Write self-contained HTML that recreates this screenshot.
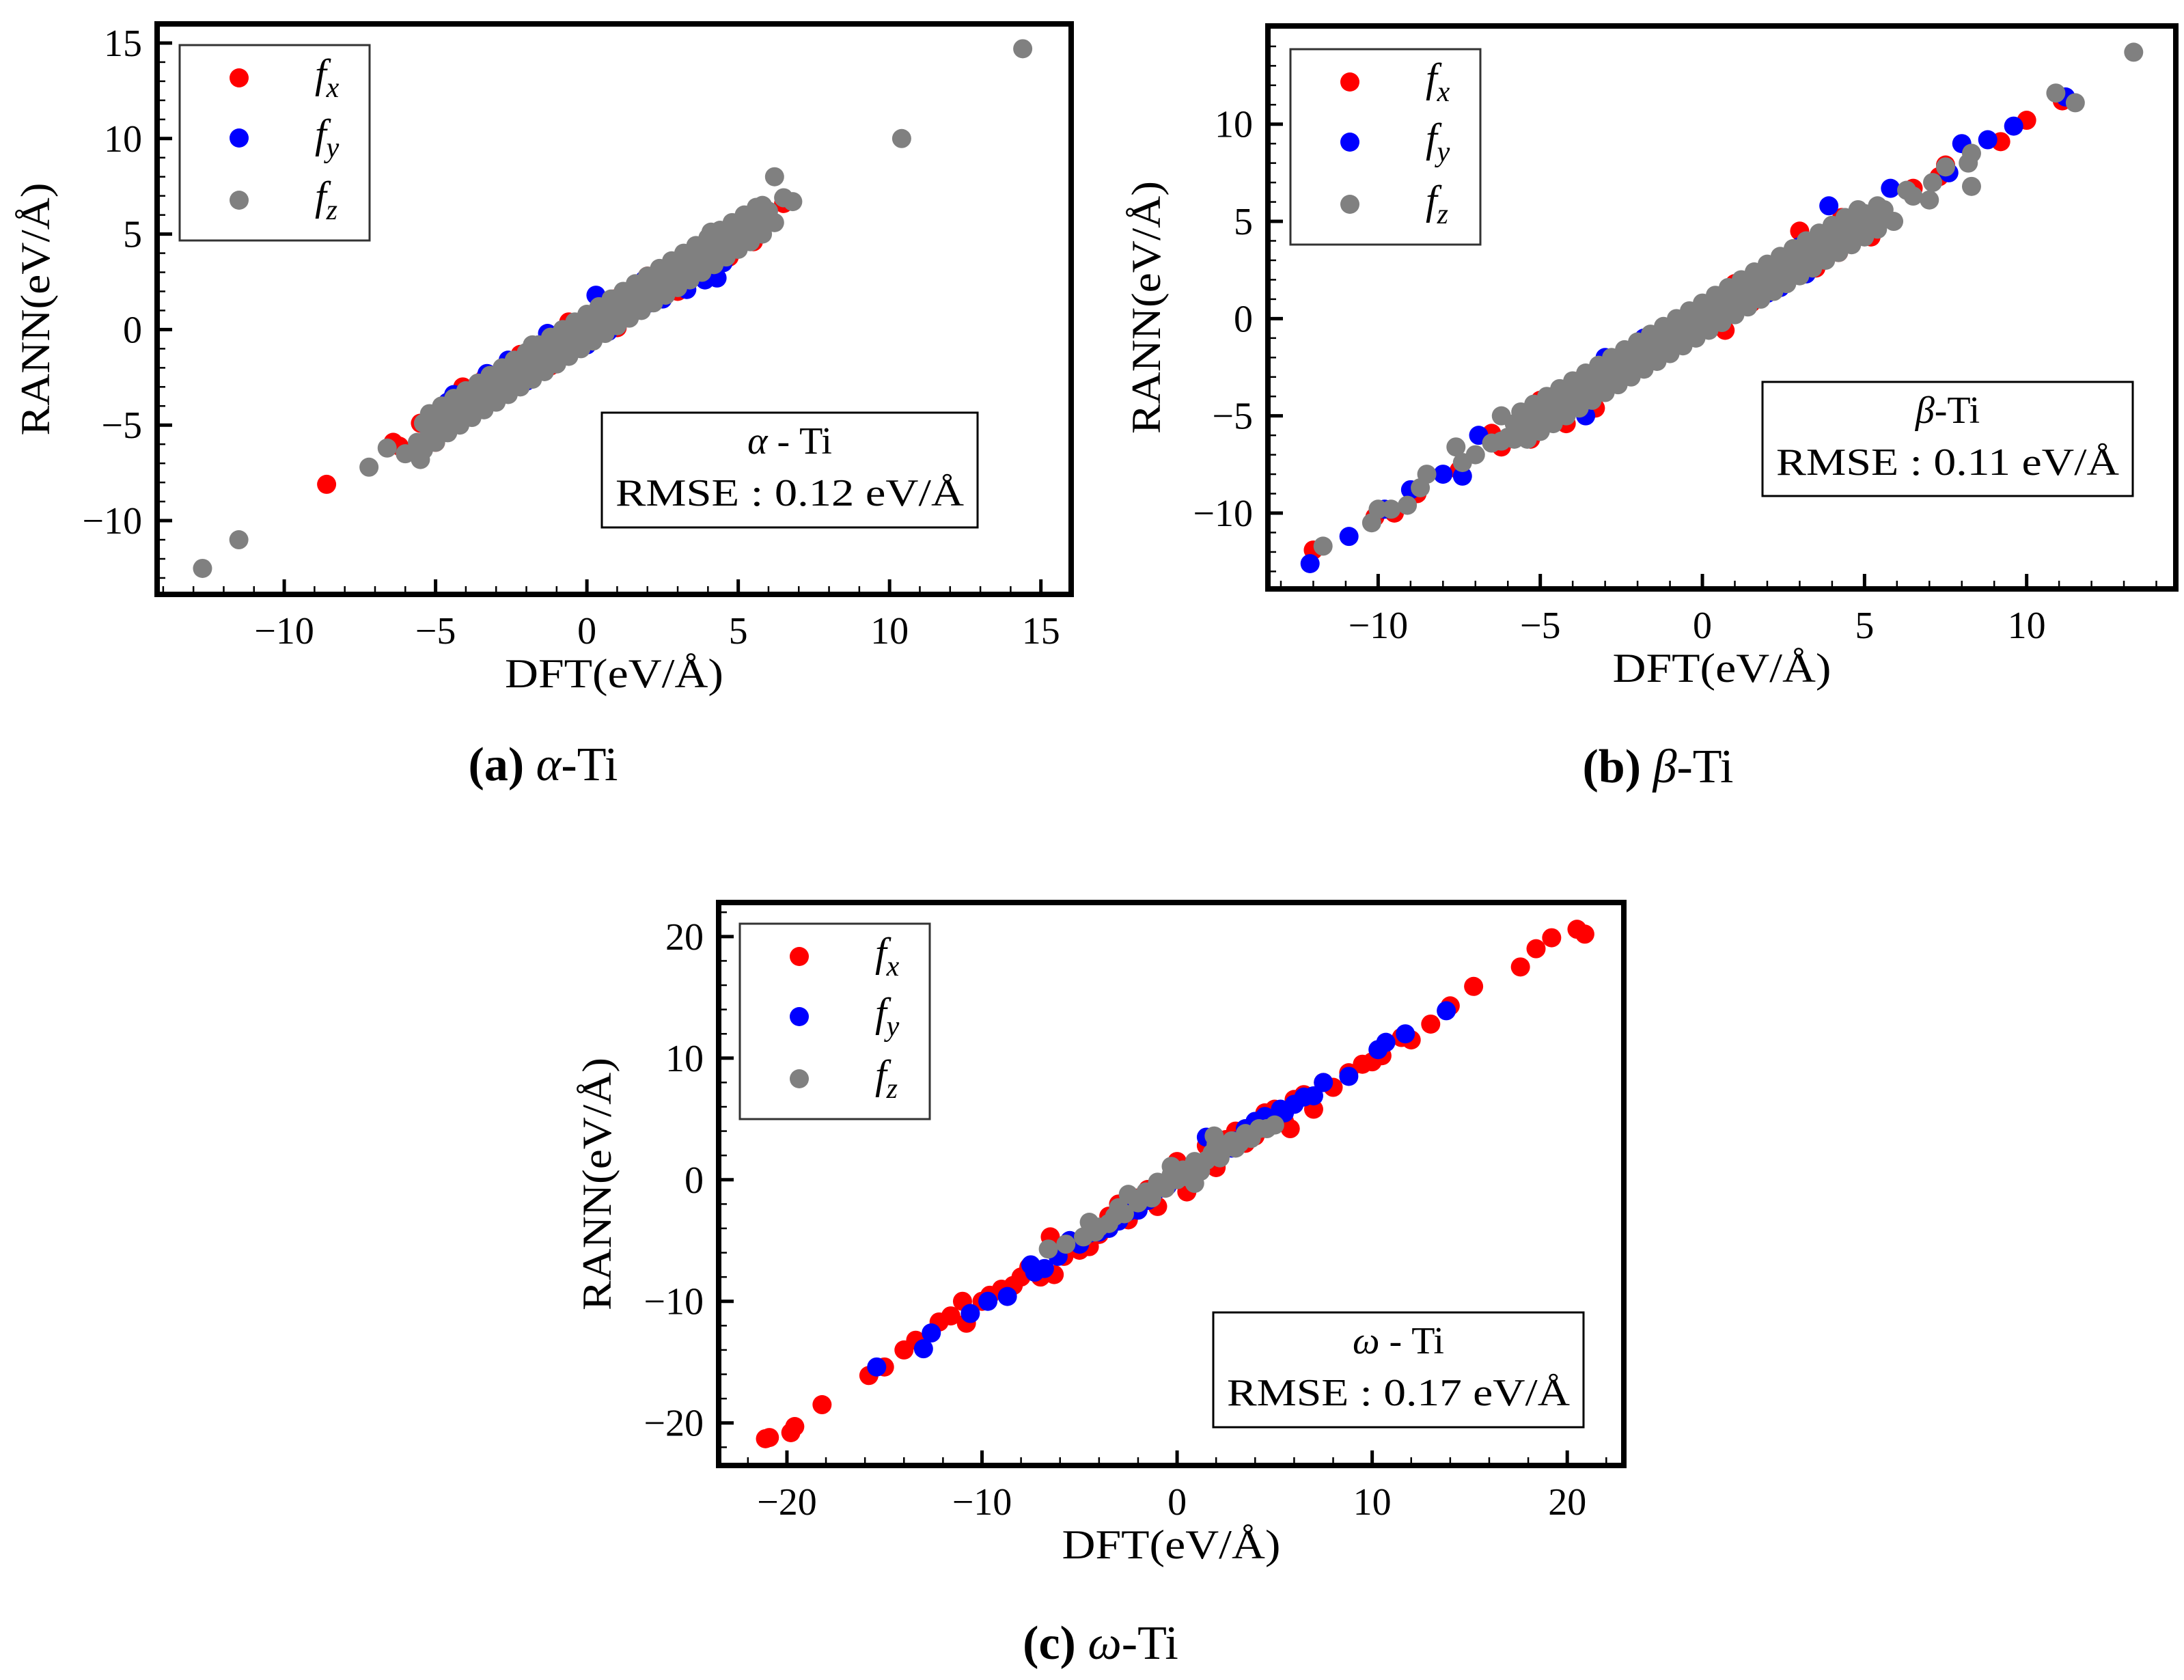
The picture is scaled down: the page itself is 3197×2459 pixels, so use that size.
<!DOCTYPE html>
<html><head><meta charset="utf-8">
<style>
html,body{margin:0;padding:0;background:#fff;}
svg{display:block;}
text{font-family:"Liberation Serif",serif;fill:#000;}
</style></head>
<body>
<svg id="fig" width="3197" height="2459" viewBox="0 0 3197 2459" xmlns="http://www.w3.org/2000/svg"></svg>
<script>
// ---------- data: panel (a) alpha-Ti ----------
const aRed = [[-8.6,-8.1],[-6.4,-5.9],[-6.2,-6.1],[-5.5,-4.9],[-4.6,-4.1],[-4.1,-3.0],[-3.4,-2.6],[-2.6,-2.4],[-1.9,-1.7],[-1.2,-1.9],[-0.6,0.4],[0.2,-0.4],[0.9,1.6],[1.5,0.9],[2.0,2.8],[2.6,1.9],[3.3,3.7],[3.9,2.9],[4.7,3.8],[5.5,4.6],[6.5,6.6],[4.2,4.9],[-2.2,-1.3],[-3.0,-3.3],[1.0,0.1],[3.0,2.0],[-5.0,-5.9],[5.0,5.3]];
const aBlue = [[-5.2,-5.5],[-4.4,-3.4],[-4.0,-4.6],[-3.3,-2.3],[-2.6,-1.6],[-2.0,-2.7],[-1.3,-0.2],[-0.8,-1.4],[-0.3,0.3],[0.3,1.8],[0.7,-0.1],[1.4,0.8],[2.1,1.4],[2.7,3.2],[3.3,2.1],[3.9,2.6],[4.3,2.7],[4.8,4.2],[1.9,2.6],[-1.6,-2.2],[-4.6,-3.8],[-3.6,-4.2],[0.0,-0.8],[2.5,1.6],[4.5,3.5]];
const aGray = [[-5.6,-5.9],[-5.2,-5.5],[-4.8,-5.0],[-4.4,-4.5],[-4.0,-4.1],[-3.6,-3.7],[-3.2,-3.2],[-2.8,-2.9],[-2.4,-2.4],[-2.0,-2.0],[-1.6,-1.6],[-1.2,-1.2],[-0.8,-0.8],[-0.4,-0.4],[0.0,0.0],[0.4,0.4],[0.8,0.8],[1.2,1.2],[1.6,1.6],[2.0,2.0],[2.4,2.4],[2.8,2.8],[3.2,3.2],[3.6,3.6],[4.0,4.0],[4.4,4.4],[4.8,4.8],[5.2,5.2],[5.6,5.7],[6.0,6.2],
[-5.4,-4.9],[-5.0,-4.5],[-4.6,-4.1],[-4.2,-3.7],[-3.8,-3.3],[-3.4,-2.9],[-3.0,-2.5],[-2.6,-2.1],[-2.2,-1.7],[-1.8,-1.3],[-1.4,-0.9],[-1.0,-0.5],[-0.6,-0.1],[-0.2,0.3],[0.2,0.7],[0.6,1.1],[1.0,1.5],[1.4,1.9],[1.8,2.3],[2.2,2.7],[2.6,3.1],[3.0,3.5],[3.4,3.9],[3.8,4.3],[4.2,4.7],[4.6,5.1],[5.0,5.5],[5.4,6.0],[5.8,6.5],
[-5.4,-6.3],[-5.0,-5.6],[-4.6,-5.1],[-4.2,-4.7],[-3.8,-4.3],[-3.4,-3.9],[-3.0,-3.5],[-2.6,-3.0],[-2.2,-2.6],[-1.8,-2.2],[-1.4,-1.8],[-1.0,-1.4],[-0.6,-1.0],[-0.2,-0.6],[0.2,-0.2],[0.6,0.2],[1.0,0.6],[1.4,1.0],[1.8,1.4],[2.2,1.8],[2.6,2.2],[3.0,2.6],[3.4,3.0],[3.8,3.4],[4.2,3.8],[4.6,4.2],[5.0,4.6],[5.4,5.0],[5.8,5.5],
[-5.2,-4.4],[-4.8,-4.0],[-4.4,-3.6],[-4.0,-3.2],[-3.6,-2.8],[-3.2,-2.4],[-2.8,-2.0],[-2.4,-1.6],[-2.0,-1.2],[-1.6,-0.8],[-1.2,-0.4],[-0.8,0.0],[-0.4,0.4],[0.0,0.8],[0.4,1.2],[0.8,1.6],[1.2,2.0],[1.6,2.4],[2.0,2.8],[2.4,3.2],[2.8,3.6],[3.2,4.0],[3.6,4.4],[4.0,4.8],[4.4,5.2],[4.8,5.6],[5.2,6.0],[5.6,6.4],
[-5.0,-5.9],[-4.6,-5.4],[-4.2,-5.0],[-3.8,-4.6],[-3.4,-4.2],[-3.0,-3.8],[-2.6,-3.4],[-2.2,-3.0],[-1.8,-2.6],[-1.4,-2.2],[-1.0,-1.8],[-0.6,-1.4],[-0.2,-1.0],[0.2,-0.6],[0.6,-0.2],[1.0,0.2],[1.4,0.6],[1.8,1.0],[2.2,1.4],[2.6,1.8],[3.0,2.2],[3.4,2.6],[3.8,3.0],[4.2,3.4],[4.6,3.8],[5.0,4.2],[5.4,4.6],[5.8,5.0],[6.2,5.6],
[14.4,14.7],[10.4,10.0],[-12.7,-12.5],[-11.5,-11.0],[-7.2,-7.2],[-6.6,-6.2],[-6.0,-6.5],[6.2,8.0],[6.8,6.7],[6.5,6.9],[4.1,5.1],[-1.8,-0.8],[-5.5,-6.8]];
const aXTicks = [-10,-5,0,5,10,15];
const aYTicks = [-10,-5,0,5,10,15];

// ---------- data: panel (b) beta-Ti ----------
const bRed = [[-12.0,-11.9],[-9.5,-10.0],[-10.1,-10.2],[-8.8,-9.0],[-7.5,-7.8],[-6.5,-5.9],[-6.2,-6.6],[-5.3,-6.2],[-5.0,-4.2],[-4.2,-5.4],[-3.3,-4.6],[-3.0,-2.5],[-1.5,-1.5],[-0.8,-0.1],[0.7,-0.6],[1.5,0.8],[2.0,2.6],[3.0,4.5],[4.2,3.4],[4.3,5.2],[6.5,6.7],[7.3,7.3],[7.5,7.9],[9.2,9.1],[10.0,10.2],[11.1,11.2],[-3.8,-3.2],[3.5,2.6],[5.2,4.2],[-2.2,-2.9],[1.0,1.8],[-4.6,-4.0]];
const bBlue = [[-12.1,-12.6],[-10.9,-11.2],[-9.8,-9.8],[-9.0,-8.8],[-8.0,-8.0],[-7.4,-8.1],[-6.9,-6.0],[-5.6,-5.2],[-4.5,-4.3],[-3.6,-5.0],[-2.5,-2.5],[-1.8,-1.0],[-0.3,-0.5],[1.0,1.1],[2.4,1.6],[3.0,3.7],[3.9,5.8],[4.6,4.0],[5.8,6.7],[7.6,7.5],[8.0,9.0],[8.8,9.2],[9.6,9.9],[11.2,11.4],[3.2,2.3],[-4.9,-4.6],[-1.0,-1.7],[2.0,1.3],[-3.0,-2.0]];
const bGray = [[-6.0,-6.1],[-5.6,-5.6],[-5.2,-5.3],[-4.8,-4.8],[-4.4,-4.4],[-4.0,-4.0],[-3.6,-3.6],[-3.2,-3.2],[-2.8,-2.8],[-2.4,-2.4],[-2.0,-2.0],[-1.6,-1.6],[-1.2,-1.2],[-0.8,-0.8],[-0.4,-0.4],[0.0,0.0],[0.4,0.4],[0.8,0.8],[1.2,1.2],[1.6,1.6],[2.0,2.0],[2.4,2.4],[2.8,2.8],[3.2,3.2],[3.6,3.6],[4.0,4.0],[4.4,4.4],[4.8,4.8],[5.2,5.2],[5.6,5.6],
[-5.8,-5.4],[-5.4,-5.0],[-5.0,-4.6],[-4.6,-4.2],[-4.2,-3.8],[-3.8,-3.4],[-3.4,-3.0],[-3.0,-2.6],[-2.6,-2.2],[-2.2,-1.8],[-1.8,-1.4],[-1.4,-1.0],[-1.0,-0.6],[-0.6,-0.2],[-0.2,0.2],[0.2,0.6],[0.6,1.0],[1.0,1.4],[1.4,1.8],[1.8,2.2],[2.2,2.6],[2.6,3.0],[3.0,3.4],[3.4,3.8],[3.8,4.2],[4.2,4.6],[4.6,5.0],[5.0,5.4],[5.4,5.8],
[-5.8,-6.2],[-5.4,-5.8],[-5.0,-5.4],[-4.6,-5.0],[-4.2,-4.6],[-3.8,-4.2],[-3.4,-3.8],[-3.0,-3.4],[-2.6,-3.0],[-2.2,-2.6],[-1.8,-2.2],[-1.4,-1.8],[-1.0,-1.4],[-0.6,-1.0],[-0.2,-0.6],[0.2,-0.2],[0.6,0.2],[1.0,0.6],[1.4,1.0],[1.8,1.4],[2.2,1.8],[2.6,2.2],[3.0,2.6],[3.4,3.0],[3.8,3.4],[4.2,3.8],[4.6,4.2],[5.0,4.6],[5.4,5.0],
[-5.6,-4.8],[-5.2,-4.4],[-4.8,-4.0],[-4.4,-3.6],[-4.0,-3.2],[-3.6,-2.8],[-3.2,-2.4],[-2.8,-2.0],[-2.4,-1.6],[-2.0,-1.2],[-1.6,-0.8],[-1.2,-0.4],[-0.8,0.0],[-0.4,0.4],[0.0,0.8],[0.4,1.2],[0.8,1.6],[1.2,2.0],[1.6,2.4],[2.0,2.8],[2.4,3.2],[2.8,3.6],[3.2,4.0],[3.6,4.4],[4.0,4.8],[4.4,5.2],[4.8,5.6],
[-5.4,-6.2],[-5.0,-5.8],[-4.6,-5.4],[-4.2,-5.0],[-3.8,-4.6],[-3.4,-4.2],[-3.0,-3.8],[-2.6,-3.4],[-2.2,-3.0],[-1.8,-2.6],[-1.4,-2.2],[-1.0,-1.8],[-0.6,-1.4],[-0.2,-1.0],[0.2,-0.6],[0.6,-0.2],[1.0,0.2],[1.4,0.6],[1.8,1.0],[2.2,1.4],[2.6,1.8],[3.0,2.2],[3.4,2.6],[3.8,3.0],[4.2,3.4],[4.6,3.8],[5.0,4.2],[5.4,4.6],
[13.3,13.7],[11.5,11.1],[10.9,11.6],[8.3,8.5],[8.3,6.8],[8.2,8.0],[7.5,7.8],[7.0,6.1],[7.1,7.0],[6.5,6.3],[6.3,6.6],[5.9,5.0],[-11.7,-11.7],[-10.2,-10.5],[-10.0,-9.8],[-9.6,-9.8],[-9.1,-9.6],[-8.7,-8.7],[-8.5,-8.0],[-7.6,-6.6],[-7.4,-7.4],[-7.0,-7.0],[-6.5,-6.4],[-6.2,-6.3],[-6.2,-5.0]];
const bXTicks = [-10,-5,0,5,10];
const bYTicks = [-10,-5,0,5,10];

// ---------- data: panel (c) omega-Ti ----------
const cRed = [[-21.1,-21.3],[-20.9,-21.2],[-19.8,-20.8],[-19.6,-20.3],[-18.2,-18.5],[-15.8,-16.1],[-15.0,-15.4],[-14.0,-14.0],[-13.4,-13.2],[-12.2,-11.7],[-11.6,-11.2],[-11.0,-10.0],[-10.8,-11.8],[-10.0,-10.0],[-9.6,-9.5],[-9.0,-9.0],[-8.4,-8.7],[-8.0,-8.0],[-7.6,-7.2],[-7.0,-8.0],[-6.3,-7.8],[-6.5,-4.7],[-5.8,-6.3],[-5.0,-5.8],[-4.5,-5.5],[-3.5,-3.0],[-2.5,-3.3],[-1.5,-0.8],[-1.0,-2.2],[0.0,1.5],[0.5,-1.0],[1.5,2.8],[2.0,1.0],[3.0,4.0],[3.5,3.0],[4.5,5.5],[5.0,5.8],[5.5,4.8],[5.8,4.2],[6.5,7.0],[7.0,5.8],[7.5,8.0],[8.8,8.8],[9.5,9.5],[10.0,9.7],[10.5,10.2],[11.5,11.7],[12.0,11.5],[13.0,12.8],[14.0,14.3],[15.2,15.9],[17.6,17.5],[18.4,19.0],[19.2,19.9],[20.5,20.6],[20.9,20.2],[-3.0,-2.0],[2.5,3.3],[-2.0,-1.5],[-4.0,-4.5],[-6.0,-5.5],[4.0,3.6],[6.0,6.6],[8.0,7.6],[1.0,0.5]];
const cBlue = [[-15.4,-15.4],[-13.0,-13.9],[-12.6,-12.6],[-10.6,-11.0],[-9.7,-10.0],[-8.7,-9.6],[-7.5,-7.0],[-7.3,-7.6],[-6.8,-7.3],[-6.1,-6.3],[-5.5,-5.0],[-5.0,-5.3],[-4.0,-4.3],[-3.5,-4.0],[-3.0,-3.4],[-2.0,-2.5],[-1.5,-1.7],[-0.5,-0.5],[0.5,0.6],[1.0,1.4],[1.5,3.5],[2.0,2.0],[2.5,2.7],[3.0,3.2],[3.5,4.2],[4.0,4.8],[4.5,5.2],[5.0,5.0],[5.5,5.5],[6.0,6.2],[6.5,6.8],[7.0,6.9],[7.5,8.0],[8.8,8.5],[10.3,10.7],[10.7,11.3],[11.7,12.0],[13.8,13.9],[2.8,2.6],[-1.0,-0.8],[-4.5,-4.4],[-2.5,-2.6],[3.8,3.9],[5.3,5.8]];
const cGray = [[-6.6,-5.7],[-5.7,-5.3],[-4.8,-4.7],[-4.5,-3.5],[-4.0,-3.9],[-3.5,-3.6],[-3.0,-2.3],[-2.7,-2.8],[-2.5,-1.2],[-2.0,-1.9],[-1.6,-1.0],[-1.3,-1.5],[-1.0,-0.2],[-0.6,-0.7],[-0.3,0.4],[0.0,0.0],[0.3,0.8],[0.6,0.2],[0.9,1.5],[1.2,0.7],[1.5,1.6],[1.8,2.2],[1.9,3.6],[2.2,1.8],[2.5,2.6],[2.8,3.2],[3.2,3.0],[3.5,3.8],[3.8,3.4],[4.2,4.2],[4.6,4.2],[5.0,4.5],[-0.3,1.1],[0.9,-0.3],[-4.2,-4.3],[-3.2,-3.0],[2.0,2.9],[3.0,2.6]];
const cXTicks = [-20,-10,0,10,20];
const cYTicks = [-20,-10,0,10,20];

const NS = "http://www.w3.org/2000/svg";
const svg = document.getElementById('fig');
function mk(tag, attrs, parent){
  const e = document.createElementNS(NS, tag);
  for (const k in attrs) e.setAttribute(k, attrs[k]);
  (parent||svg).appendChild(e);
  return e;
}

function drawPanel(p){
  const g = mk('g', {});
  
  
  const sx = v => p.L + (v - p.x0) / (p.x1 - p.x0) * (p.R - p.L);
  const sy = v => p.B - (v - p.y0) / (p.y1 - p.y0) * (p.B - p.T);
  const clip = mk('clipPath', {id: p.id + '-clip'}, g);
  mk('rect', {x:p.L, y:p.T, width:p.R-p.L, height:p.B-p.T}, clip);
  const pts = mk('g', {'clip-path':'url(#' + p.id + '-clip)'}, g);
  
  
  const series = [[p.red,'#ff0000','fx'],[p.blue,'#0000ff','fy'],[p.gray,'#808080','fz']];
  series.forEach(([arr,col,nm]) => {
    arr.forEach(d => {
      const c = mk('circle', {cx:sx(d[0]), cy:sy(d[1]), r:14, fill:col}, pts);
      
      
    });
  });
  for (let v = Math.ceil(p.x0/p.minor)*p.minor; v <= p.x1; v += p.minor) {
    const x = sx(v);
    const major = Math.abs(v % p.major) < 1e-9;
    const t = mk('line', {x1:x, x2:x, y1:p.B, y2:p.B-(major?22:12), stroke:'#000', 'stroke-width':major?5:2.5}, g);
    
    
  }
  for (let v = Math.ceil(p.y0/p.minor)*p.minor; v <= p.y1; v += p.minor) {
    const y = sy(v);
    const major = Math.abs(v % p.major) < 1e-9;
    const t = mk('line', {x1:p.L, x2:p.L+(major?22:12), y1:y, y2:y, stroke:'#000', 'stroke-width':major?5:2.5}, g);
    
    
  }
  const fr = mk('rect', {x:p.L, y:p.T, width:p.R-p.L, height:p.B-p.T, fill:'none', stroke:'#000', 'stroke-width':8}, g);
  
  
  p.xt.forEach(v => {
    const t = mk('text', {x:sx(v), y:p.B+72, 'font-size':56, 'text-anchor':'middle'}, g);
    t.textContent = v < 0 ? '\u2212' + Math.abs(v) : String(v);
    
    
  });
  p.yt.forEach(v => {
    const t = mk('text', {x:p.L-22, y:sy(v)+19, 'font-size':56, 'text-anchor':'end'}, g);
    t.textContent = v < 0 ? '\u2212' + Math.abs(v) : String(v);
    
    
  });
  const xl = mk('text', {x:(p.L+p.R)/2, y:p.B+136, 'font-size':60, 'text-anchor':'middle', textLength:320, lengthAdjust:'spacingAndGlyphs'}, g);
  xl.textContent = 'DFT(eV/\u00C5)';
  
  
  const cy = (p.T+p.B)/2;
  const yl = mk('text', {x:0, y:0, 'font-size':60, 'text-anchor':'middle', textLength:370, lengthAdjust:'spacingAndGlyphs', transform:'translate(' + (p.L-158) + ',' + cy + ') rotate(-90)'}, g);
  yl.textContent = 'RANN(eV/\u00C5)';
  
  
  const lg = mk('g', {}, g);
  
  
  mk('rect', {x:p.leg[0], y:p.leg[1], width:278, height:286, fill:'#fff', stroke:'#333', 'stroke-width':3}, lg);
  const subs = ['x','y','z'];
  [['#ff0000',48],['#0000ff',136],['#808080',227]].forEach((s,i) => {
    const e = mk('g', {}, lg);
    
    
    mk('circle', {cx:p.leg[0]+87, cy:p.leg[1]+s[1], r:14, fill:s[0]}, e);
    const t = mk('text', {x:p.leg[0]+198, y:p.leg[1]+s[1]+14, 'font-size':60, 'font-style':'italic'}, e);
    t.textContent = 'f';
    const sb = mk('tspan', {dy:14, 'font-size':42}, t);
    sb.textContent = subs[i];
  });
  const ab = mk('g', {}, g);
  
  
  mk('rect', {x:p.box[0], y:p.box[1], width:p.box[2]-p.box[0], height:p.box[3]-p.box[1], fill:'#fff', stroke:'#000', 'stroke-width':3}, ab);
  const mx = (p.box[0]+p.box[2])/2;
  const t1 = mk('text', {x:mx, y:p.box[1]+60, 'font-size':56, 'text-anchor':'middle'}, ab);
  const gr = mk('tspan', {'font-style':'italic'}, t1); gr.textContent = p.greek;
  const rs = mk('tspan', {}, t1); rs.textContent = p.sep + 'Ti';
  const t2 = mk('text', {x:mx, y:p.box[1]+136, 'font-size':56, 'text-anchor':'middle', textLength:p.box[2]-p.box[0]-40, lengthAdjust:'spacingAndGlyphs'}, ab);
  t2.textContent = 'RMSE : ' + p.rmse + ' eV/\u00C5';
  const cap = mk('text', {x:p.cap[0], y:p.cap[1], 'font-size':70, 'text-anchor':'middle'}, svg);
  
  
  const b = mk('tspan', {'font-weight':'bold'}, cap); b.textContent = '(' + p.letter + ') ';
  const gg = mk('tspan', {'font-style':'italic'}, cap); gg.textContent = p.greek;
  const tt = mk('tspan', {}, cap); tt.textContent = '-Ti';
}

drawPanel({id:'alpha', L:230, R:1568, T:35, B:870, x0:-14.2, x1:16.0, y0:-13.86, y1:16.0, minor:1, major:5,
  red:aRed, blue:aBlue, gray:aGray, xt:aXTicks, yt:aYTicks, leg:[263,66], box:[881,604,1431,772],
  greek:'\u03B1', sep:' - ', rmse:'0.12', letter:'a', cap:[795,1142]});
drawPanel({id:'beta', L:1856, R:3185, T:38, B:862, x0:-13.4, x1:14.6, y0:-13.9, y1:15.05, minor:1, major:5,
  red:bRed, blue:bBlue, gray:bGray, xt:bXTicks, yt:bYTicks, leg:[1889,72], box:[2580,559,3122,726],
  greek:'\u03B2', sep:'-', rmse:'0.11', letter:'b', cap:[2427,1145]});
drawPanel({id:'omega', L:1052, R:2377, T:1321, B:2145, x0:-23.5, x1:22.9, y0:-23.5, y1:22.8, minor:2, major:10,
  red:cRed, blue:cBlue, gray:cGray, xt:cXTicks, yt:cYTicks, leg:[1083,1352], box:[1776,1921,2318,2089],
  greek:'\u03C9', sep:' - ', rmse:'0.17', letter:'c', cap:[1611,2428]});
</script>
</body></html>
